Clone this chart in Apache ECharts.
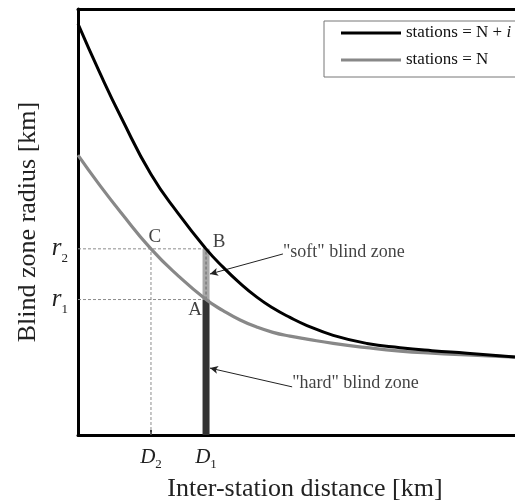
<!DOCTYPE html>
<html>
<head>
<meta charset="utf-8">
<script src="https://cdn.jsdelivr.net/npm/echarts@6/dist/echarts.min.js"></script>
<style>
  html, body { margin: 0; padding: 0; background: #fff; }
  #chart { width: 515px; height: 504px; }
</style>
</head>
<body>
<div id="chart"></div>
<script>
// Inter-station distance (relative units across the plot)
const distance = [0, 5, 10, 16.7, 23, 29.3, 33.2, 37.1, 41, 44.6, 48.5, 52.4, 58.4, 66.1, 73.7, 81, 89, 100];
// Blind zone radius with N + i stations
const radiusMore = [96.5, 85.0, 74.3, 61.2, 51.9, 43.7, 39.4, 35.6, 32.3, 29.8, 27.6, 25.7, 23.4, 21.5, 20.5, 19.8, 19.2, 18.3];
// Blind zone radius with N stations
const radiusBase = [65.7, 58.6, 52.0, 43.7, 37.3, 31.8, 29.2, 27.0, 25.3, 24.1, 23.2, 22.5, 21.5, 20.5, 19.7, 19.2, 18.8, 18.3];

// Reference distances and radii
const D1 = 29.3, D2 = 16.7;
const r1 = 31.8, r2 = 43.7;
const xTickNames = ['D', 'D'];
const xTickSubs = ['2', '1'];
const yTickNames = ['r', 'r'];
const yTickSubs = ['1', '2'];

// Point labels and callouts: [x, y, text]
const pointLabels = [[26.8, 29.4, 'A'], [32.3, 45.3, 'B'], [17.6, 46.5, 'C']];
const zoneLabels = [[46.9, 43.0, '"soft" blind zone'], [49.0, 12.2, '"hard" blind zone']];
const zoneArrows = [[[46.9, 42.5], [30.2, 37.8]], [[49.0, 11.3], [30.2, 15.7]]];

const nameMore = 'stations = N + i';
const nameBase = 'stations = N';
const SERIF = 'Liberation Serif';

const pairs = (xs, ys) => xs.map((x, k) => [x, ys[k]]);

function dashed(points, color) {
  return {
    type: 'line', data: points, symbol: 'none', silent: true, z: 1,
    lineStyle: { color: color || '#8c8c8c', width: 1, type: [3, 2] }
  };
}

const chart = echarts.init(document.getElementById('chart'), null, { renderer: 'canvas' });

chart.setOption({
  animation: false,
  backgroundColor: '#fff',
  textStyle: { fontFamily: SERIF },
  grid: { left: 78, right: 0, top: 9, bottom: 69, containLabel: false, outerBoundsMode: 'none' },
  legend: {
    data: [nameMore, nameBase],
    orient: 'vertical',
    left: 324, top: 21,
    icon: 'rect', itemWidth: 60, itemHeight: 3,
    itemGap: 7, itemTextGap: 3,
    padding: [2, 40, 7, 17],
    borderColor: '#777', borderWidth: 1,
    textStyle: {
      fontFamily: SERIF, fontSize: 17, color: '#111', lineHeight: 20,
      rich: { i: { fontFamily: SERIF, fontStyle: 'italic', fontSize: 17, color: '#111' } }
    },
    formatter: n => n === nameMore ? 'stations = N + {i|i}' : n
  },
  xAxis: [{
    type: 'value', min: 0, max: 100, position: 'bottom',
    name: 'Inter-station distance [km]', nameLocation: 'middle', nameGap: 31,
    nameTextStyle: { fontFamily: SERIF, fontSize: 26, color: '#222', padding: [0, 0, 0, 17] },
    axisLine: { onZero: false, lineStyle: { color: '#000', width: 3 } },
    axisTick: { show: true, inside: true, length: 5, customValues: [D2, D1], lineStyle: { color: '#000', width: 1.5 } },
    axisLabel: {
      customValues: [D2, D1], margin: 12,
      formatter: v => {
        const k = v === D2 ? 0 : 1;
        return '{n|' + xTickNames[k] + '}{s|' + xTickSubs[k] + '}';
      },
      rich: {
        n: { fontFamily: SERIF, fontStyle: 'italic', fontSize: 21, color: '#222' },
        s: { fontFamily: SERIF, fontSize: 13, color: '#222', verticalAlign: 'bottom', padding: [0, 0, -3, 0] }
      }
    },
    splitLine: { show: false }
  }, {
    type: 'value', min: 0, max: 100, position: 'top',
    axisLine: { onZero: false, lineStyle: { color: '#000', width: 3 } },
    axisTick: { show: false }, axisLabel: { show: false }, splitLine: { show: false }
  }],
  yAxis: {
    type: 'value', min: 0, max: 100,
    name: 'Blind zone radius [km]', nameLocation: 'middle', nameGap: 37,
    nameTextStyle: { fontFamily: SERIF, fontSize: 26, color: '#222' },
    axisLine: { onZero: false, lineStyle: { color: '#000', width: 3 } },
    axisTick: { show: false },
    axisLabel: {
      customValues: [r1, r2], margin: 10,
      formatter: v => {
        const k = v === r1 ? 0 : 1;
        return '{n|' + yTickNames[k] + '}{s|' + yTickSubs[k] + '}';
      },
      rich: {
        n: { fontFamily: SERIF, fontStyle: 'italic', fontSize: 25, color: '#222' },
        s: { fontFamily: SERIF, fontSize: 13, color: '#222', verticalAlign: 'bottom', padding: [0, 0, -4, 0] }
      }
    },
    splitLine: { show: false }
  },
  series: [
    // guide lines to the axes
    dashed([[0, r2], [D1, r2]]),
    dashed([[0, r1], [D1, r1]]),
    dashed([[D2, 0], [D2, r2]]),
    // "hard" blind zone: below r1 at D1
    {
      type: 'line', data: [[D1, 0], [D1, r1]], symbol: 'none', silent: true, z: 2,
      lineStyle: { color: '#333', width: 7, cap: 'butt' }
    },
    // "soft" blind zone: between r1 and r2 at D1
    {
      type: 'line', data: [[D1, r1], [D1, r2]], symbol: 'none', silent: true, z: 2,
      lineStyle: { color: '#a9a9a9', width: 7, cap: 'butt' }
    },
    Object.assign(dashed([[D1, r1], [D1, r2]], '#666'), { z: 3 }),
    {
      name: nameBase, type: 'line', data: pairs(distance, radiusBase),
      smooth: 0.5, showSymbol: false, symbol: 'none', z: 4,
      color: '#888', lineStyle: { color: '#888', width: 3.2 }
    },
    {
      name: nameMore, type: 'line', data: pairs(distance, radiusMore),
      smooth: 0.5, showSymbol: false, symbol: 'none', z: 5,
      color: '#000', lineStyle: { color: '#000', width: 3 }
    },
    // A, B, C markers
    {
      type: 'scatter', symbolSize: 0, silent: true, z: 6,
      data: pointLabels.map(p => ({ value: [p[0], p[1]], name: p[2] })),
      label: { show: true, position: 'inside', formatter: '{b}', fontFamily: SERIF, fontSize: 19, color: '#111' }
    },
    // zone callouts
    {
      type: 'scatter', symbolSize: 0, silent: true, z: 6,
      data: zoneLabels.map(p => ({ value: [p[0], p[1]], name: p[2] })),
      label: { show: true, position: 'right', distance: 0, formatter: '{b}', fontFamily: SERIF, fontSize: 18, color: '#111' },
      markLine: {
        silent: true, symbol: ['none', 'arrow'], symbolSize: [6, 8],
        label: { show: false },
        lineStyle: { color: '#222', width: 1, type: 'solid' },
        data: zoneArrows.map(a => [{ coord: a[0] }, { coord: a[1] }])
      }
    }
  ]
});
</script>
</body>
</html>
